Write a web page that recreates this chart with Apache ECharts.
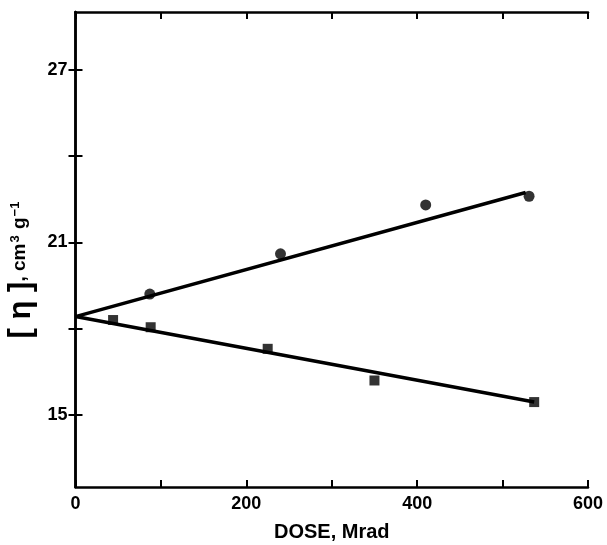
<!DOCTYPE html>
<html>
<head>
<meta charset="utf-8">
<script src="https://cdn.jsdelivr.net/npm/echarts@6.0.0/dist/echarts.min.js"></script>
<style>
html,body{margin:0;padding:0;background:#fff;}
#c{width:607px;height:545px;}
</style>
</head>
<body>
<div id="c"></div>
<script>
// Data
const circleDose = [87, 240, 410, 531];
const circleEta = [19.2, 20.6, 22.3, 22.6];
const squareDose = [44, 88, 225, 350, 537];
const squareEta = [18.3, 18.05, 17.3, 16.2, 15.45];
const upperFitDose = [0, 527];
const upperFitEta = [18.42, 22.73];
const lowerFitDose = [0, 537];
const lowerFitEta = [18.42, 15.45];
const xLabelValues = [0, 200, 400, 600];
const xTickValues = [0, 100, 200, 300, 400, 500, 600];
const yLabelValues = [15, 21, 27];
const yTickValues = [15, 18, 21, 24, 27];

const zip = (a, b) => a.map((v, i) => [v, b[i]]);
const FONT = '"Liberation Sans", Arial, sans-serif';

const axisLineStyle = {show: true, lineStyle: {color: '#000', width: 2.5}};
const tickStyle = {show: true, inside: true, length: 7, lineStyle: {color: '#000', width: 2}};

const chart = echarts.init(document.getElementById('c'), null, {renderer: 'canvas'});
chart.setOption({
  backgroundColor: '#fff',
  animation: false,
  grid: {left: 75.5, right: 19, top: 12, bottom: 58, containLabel: false, outerBoundsMode: 'none'},
  xAxis: [
    {
      type: 'value', position: 'bottom', min: 0, max: 600, interval: 100,
      axisLine: axisLineStyle,
      axisTick: Object.assign({}, tickStyle, {customValues: xTickValues}),
      splitLine: {show: false},
      axisLabel: {customValues: xLabelValues, color: '#000', fontFamily: FONT, fontWeight: 'bold', fontSize: 18, margin: 8},
      name: 'DOSE, Mrad', nameLocation: 'middle', nameGap: 35,
      nameTextStyle: {color: '#000', fontFamily: FONT, fontWeight: 'bold', fontSize: 20}
    },
    {
      type: 'value', position: 'top', min: 0, max: 600, interval: 100,
      axisLine: axisLineStyle,
      axisTick: Object.assign({}, tickStyle, {customValues: xTickValues}),
      axisLabel: {show: false}, splitLine: {show: false}
    }
  ],
  yAxis: [
    {
      type: 'value', position: 'left', min: 12.5, max: 29,
      axisLine: axisLineStyle,
      axisTick: Object.assign({}, tickStyle, {customValues: yTickValues}),
      splitLine: {show: false},
      axisLabel: {customValues: yLabelValues, color: '#000', fontFamily: FONT, fontWeight: 'bold', fontSize: 18, margin: 8},
      name: '{b|[ η ]}{t|, cm}{s|3}{t| g}{s|−1}', nameLocation: 'middle', nameGap: 34, nameRotate: 90,
      nameTextStyle: {
        color: '#000', fontFamily: FONT, fontWeight: 'bold', fontSize: 19,
        padding: [0, 40, 0, 0],
        rich: {
          b: {fontSize: 31, fontWeight: 'bold', fontFamily: FONT, color: '#000'},
          t: {fontSize: 19, fontWeight: 'bold', fontFamily: FONT, color: '#000', padding: [0, 0, 2, 0]},
          s: {fontSize: 13, fontWeight: 'bold', fontFamily: FONT, color: '#000', padding: [0, 1, 11, 1]}
        }
      }
    },
    {
      type: 'value', position: 'right', min: 12.5, max: 29,
      axisLine: axisLineStyle,
      axisTick: Object.assign({}, tickStyle, {customValues: yTickValues}),
      axisLabel: {show: false}, splitLine: {show: false}
    }
  ],
  series: [
    {
      type: 'line', xAxisIndex: 0, yAxisIndex: 0,
      data: zip(upperFitDose, upperFitEta), showSymbol: false, silent: true,
      lineStyle: {color: '#000', width: 3.5}
    },
    {
      type: 'line', xAxisIndex: 0, yAxisIndex: 0,
      data: zip(lowerFitDose, lowerFitEta), showSymbol: false, silent: true,
      lineStyle: {color: '#000', width: 3.5}
    },
    {
      type: 'scatter', xAxisIndex: 0, yAxisIndex: 0,
      data: zip(circleDose, circleEta), symbol: 'circle', symbolSize: 11,
      itemStyle: {color: '#000'}
    },
    {
      type: 'scatter', xAxisIndex: 0, yAxisIndex: 0,
      data: zip(squareDose, squareEta), symbol: 'rect', symbolSize: 10,
      itemStyle: {color: '#000'}
    }
  ]
});
</script>
</body>
</html>
